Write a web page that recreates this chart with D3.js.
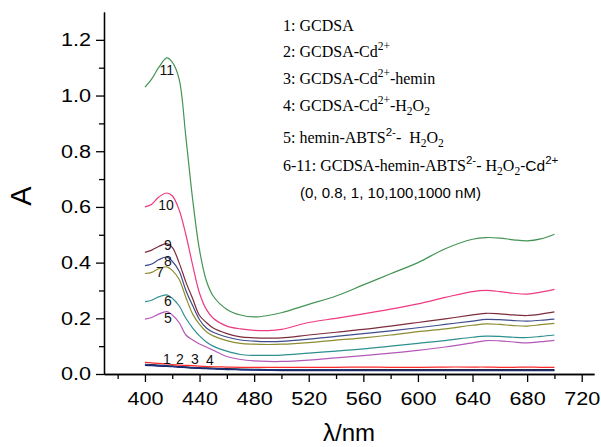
<!DOCTYPE html>
<html lang="en">
<head>
    <meta charset="utf-8">
    <title>Absorption spectra</title>
    <style>
        body {
            margin: 0;
            background: #ffffff;
        }
        .spec {
            fill: none;
            stroke-width: 1.2px;
        }
        .axis path, .axis line {
            stroke: #000;
            stroke-width: 1.3px;
        }
        .axis text {
            font-family: "Liberation Sans", Arial, sans-serif;
            font-size: 18.5px;
            fill: #000;
        }
        .lbl {
            font-family: "Liberation Sans", Arial, sans-serif;
            font-size: 14px;
            fill: #111;
        }
        .leg {
            font-family: "Liberation Serif", "Times New Roman", serif;
            font-size: 16px;
            fill: #000;
        }
    </style>
    <script src="https://d3js.org/d3.v7.min.js"></script>
</head>
<body>
<div id="chart"></div>
<script>
// wavelengths (nm) shared by all spectra
var wl = [400, 405, 410, 416, 420, 425, 430, 435, 440, 445, 450, 460, 470, 480, 490, 500,
          520, 540, 560, 580, 600, 620, 640, 650, 660, 670, 680, 690, 700];

// absorbance of each spectrum, read at the wavelengths above
var s1  = [0.035, 0.034, 0.032, 0.030, 0.029, 0.027, 0.026, 0.024, 0.023, 0.022, 0.021, 0.019, 0.018, 0.017, 0.016, 0.016,
           0.016, 0.016, 0.016, 0.016, 0.016, 0.016, 0.016, 0.016, 0.016, 0.016, 0.016, 0.016, 0.016];
var s2  = [0.042, 0.040, 0.038, 0.036, 0.034, 0.032, 0.031, 0.030, 0.028, 0.027, 0.026, 0.025, 0.024, 0.024, 0.024, 0.024,
           0.024, 0.024, 0.025, 0.024, 0.024, 0.025, 0.025, 0.025, 0.024, 0.024, 0.025, 0.024, 0.024];
var s3  = [0.033, 0.032, 0.030, 0.028, 0.027, 0.025, 0.024, 0.022, 0.021, 0.020, 0.019, 0.017, 0.016, 0.015, 0.014, 0.014,
           0.014, 0.014, 0.013, 0.013, 0.013, 0.013, 0.013, 0.013, 0.013, 0.013, 0.013, 0.013, 0.013];
var s4  = [0.031, 0.030, 0.028, 0.027, 0.026, 0.024, 0.023, 0.021, 0.020, 0.019, 0.018, 0.016, 0.015, 0.014, 0.013, 0.012,
           0.012, 0.012, 0.012, 0.012, 0.012, 0.012, 0.012, 0.012, 0.012, 0.012, 0.012, 0.012, 0.012];
var s5  = [0.197, 0.203, 0.215, 0.224, 0.212, 0.185, 0.140, 0.122, 0.108, 0.097, 0.085, 0.063, 0.052, 0.047, 0.045, 0.045,
           0.050, 0.058, 0.066, 0.075, 0.085, 0.097, 0.112, 0.120, 0.119, 0.115, 0.112, 0.116, 0.121];
var s6  = [0.260, 0.265, 0.277, 0.284, 0.272, 0.245, 0.200, 0.165, 0.137, 0.115, 0.100, 0.082, 0.070, 0.067, 0.067, 0.068,
           0.075, 0.082, 0.090, 0.100, 0.110, 0.120, 0.132, 0.136, 0.135, 0.132, 0.131, 0.135, 0.140];
var s7  = [0.361, 0.365, 0.378, 0.385, 0.372, 0.340, 0.275, 0.215, 0.178, 0.152, 0.137, 0.120, 0.110, 0.107, 0.106, 0.107,
           0.113, 0.122, 0.130, 0.140, 0.152, 0.162, 0.175, 0.180, 0.178, 0.174, 0.172, 0.177, 0.182];
var s8  = [0.389, 0.395, 0.410, 0.420, 0.405, 0.370, 0.300, 0.245, 0.195, 0.165, 0.150, 0.133, 0.122, 0.118, 0.116, 0.117,
           0.125, 0.135, 0.145, 0.155, 0.166, 0.178, 0.190, 0.196, 0.195, 0.192, 0.190, 0.193, 0.197];
var s9  = [0.437, 0.445, 0.458, 0.468, 0.455, 0.400, 0.330, 0.270, 0.210, 0.185, 0.165, 0.145, 0.133, 0.130, 0.129, 0.130,
           0.140, 0.150, 0.160, 0.172, 0.185, 0.198, 0.212, 0.218, 0.216, 0.212, 0.210, 0.215, 0.223];
var s10 = [0.600, 0.610, 0.635, 0.650, 0.640, 0.590, 0.500, 0.390, 0.290, 0.232, 0.200, 0.172, 0.162, 0.157, 0.156, 0.160,
           0.185, 0.200, 0.216, 0.233, 0.252, 0.275, 0.296, 0.300, 0.296, 0.290, 0.287, 0.294, 0.304];
var s11 = [1.030, 1.060, 1.100, 1.135, 1.120, 1.060, 0.850, 0.625, 0.445, 0.335, 0.280, 0.232, 0.212, 0.205, 0.210, 0.220,
           0.250, 0.280, 0.320, 0.360, 0.400, 0.450, 0.484, 0.490, 0.488, 0.482, 0.478, 0.485, 0.502];

var spectra = [s1, s2, s3, s4, s5, s6, s7, s8, s9, s10, s11];
var colors = ["#222222", "#ff2a2a", "#2040c0", "#1a2a6a", "#b458b8", "#2e8f8f", "#8c8c30",
              "#3e4c8c", "#7c2c3c", "#ee3a82", "#449455"];

// curve numbers and where they sit (nm, absorbance)
var labelText = ["11", "10", "9", "8", "7", "6", "5", "1", "2", "3", "4"];
var labelWl   = [416, 415.4, 416.8, 416.8, 411, 416.8, 416.8, 416.1, 425.6, 436.6, 447.6];
var labelA    = [1.091, 0.607, 0.463, 0.405, 0.366, 0.262, 0.201, 0.054, 0.054, 0.054, 0.050];

// ticks
var xMajor = [400, 440, 480, 520, 560, 600, 640, 680, 720];
var xMinor = [380, 420, 460, 500, 540, 580, 620, 660, 700];
var yMajor = [0, 0.2, 0.4, 0.6, 0.8, 1.0, 1.2];
var yMinor = [0.1, 0.3, 0.5, 0.7, 0.9, 1.1];

// legend lines: [text, kind] with kind "" normal, "sup", "sub", "a" = Arial, "asup" = Arial superscript
var legend = [
    [["1: GCDSA", ""]],
    [["2: GCDSA-Cd", ""], ["2+", "sup"]],
    [["3: GCDSA-Cd", ""], ["2+", "sup"], ["-hemin", ""]],
    [["4: GCDSA-Cd", ""], ["2+", "sup"], ["-H", ""], ["2", "sub"], ["O", ""], ["2", "sub"]],
    [["5: hemin-ABTS", ""], ["2-", "asup"], ["-\u00a0 H", ""], ["2", "sub"], ["O", ""], ["2", "sub"]],
    [["6-11: GCDSA-hemin-ABTS", ""], ["2-", "asup"], ["- H", ""], ["2", "sub"], ["O", ""], ["2", "sub"],
     ["-Cd", "a"], ["2+", "asup"]]
];
var legendNote = "(0, 0.8, 1, 10,100,1000 nM)";

var W = 601, H = 447;
var margin = { top: 12, right: 7, bottom: 73, left: 104 };

var x = d3.scaleLinear().domain([370, 729]).range([margin.left, W - margin.right]);
var y = d3.scaleLinear().domain([0, 1.3]).range([H - margin.bottom, margin.top]);

var svg = d3.select("#chart").append("svg")
    .attr("width", W)
    .attr("height", H);

// spectra
var line = d3.line()
    .curve(d3.curveCatmullRom.alpha(0.5))
    .x(function(d) { return x(d[0]); })
    .y(function(d) { return y(d[1]); });

spectra.forEach(function(s, i) {
    svg.append("path")
        .datum(wl.map(function(w, j) { return [w, s[j]]; }))
        .attr("class", "spec")
        .attr("stroke", colors[i])
        .attr("d", line);
});

// x axis, minor ticks then major ticks with labels
svg.append("g")
    .attr("class", "axis")
    .attr("transform", "translate(0," + y(0) + ")")
    .call(d3.axisBottom(x).tickValues(xMinor).tickSize(5).tickSizeOuter(0).tickFormat(""));

var gx = svg.append("g")
    .attr("class", "axis")
    .attr("transform", "translate(0," + y(0) + ")")
    .call(d3.axisBottom(x).tickValues(xMajor).tickSize(8).tickSizeOuter(0).tickPadding(10).tickFormat(d3.format("d")));
gx.selectAll("text").attr("transform", "scale(1.17,1)");

// y axis
svg.append("g")
    .attr("class", "axis")
    .attr("transform", "translate(" + x(370) + ",0)")
    .call(d3.axisLeft(y).tickValues(yMinor).tickSize(5).tickSizeOuter(0).tickFormat(""));

var gy = svg.append("g")
    .attr("class", "axis")
    .attr("transform", "translate(" + x(370) + ",0)")
    .call(d3.axisLeft(y).tickValues(yMajor).tickSize(8).tickSizeOuter(0).tickFormat(d3.format(".1f")));
gy.selectAll("text")
    .attr("x", -13 / 1.17)
    .attr("transform", "scale(1.17,1)");

// axis titles
svg.append("text")
    .attr("transform", "translate(31," + ((y(0) + y(1.3)) / 2 + 3) + ") rotate(-90)")
    .attr("text-anchor", "middle")
    .style("font-family", "'Liberation Sans', Arial, sans-serif")
    .style("font-size", "29px")
    .text("A");

svg.append("text")
    .attr("x", (x(370) + x(729)) / 2)
    .attr("y", 441)
    .attr("text-anchor", "middle")
    .style("font-family", "'Liberation Sans', Arial, sans-serif")
    .style("font-size", "24px")
    .text("\u03bb/nm");

// curve numbers
labelText.forEach(function(t, i) {
    svg.append("text")
        .attr("class", "lbl")
        .attr("x", x(labelWl[i]))
        .attr("y", y(labelA[i]))
        .attr("dy", "0.36em")
        .attr("text-anchor", "middle")
        .text(t);
});

// legend
var legY = [31, 57, 84, 111, 143, 171];
legend.forEach(function(row, i) {
    var t = svg.append("text")
        .attr("class", "leg")
        .attr("x", 283)
        .attr("y", legY[i]);
    var shift = 0;
    row.forEach(function(seg) {
        var kind = seg[1], target = 0;
        if (kind === "sup" || kind === "asup") target = -7;
        if (kind === "sub") target = 4;
        var ts = t.append("tspan")
            .attr("dy", target - shift)
            .text(seg[0]);
        shift = target;
        if (kind === "sup" || kind === "asup" || kind === "sub") ts.style("font-size", "11.5px");
        if (kind === "a" || kind === "asup") ts.style("font-family", "'Liberation Sans', Arial, sans-serif");
        if (kind === "a") ts.style("font-size", "15.5px");
    });
});

svg.append("text")
    .attr("x", 300)
    .attr("y", 198)
    .style("font-family", "'Liberation Sans', Arial, sans-serif")
    .style("font-size", "15px")
    .text(legendNote);
</script>
</body>
</html>
